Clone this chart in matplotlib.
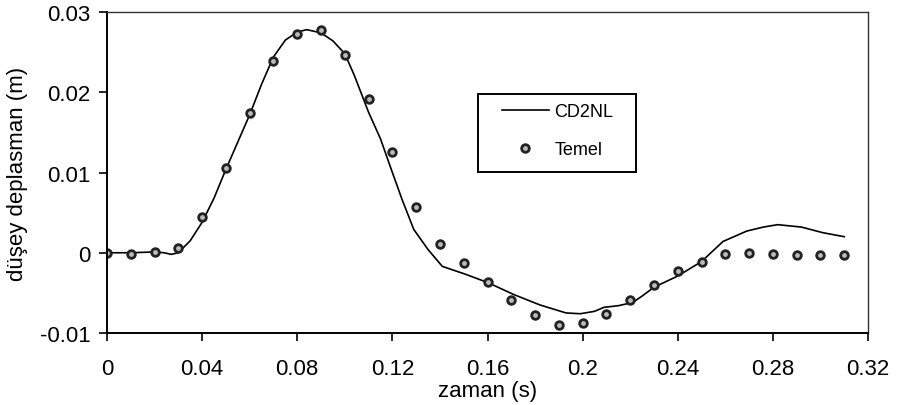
import matplotlib
matplotlib.use("Agg")
import matplotlib.pyplot as plt
from matplotlib.patches import Rectangle

plt.rcParams['font.family'] = ['Liberation Sans', 'DejaVu Sans']

# Temel: measured response every 0.01 s
t_temel = [0.00, 0.01, 0.02, 0.03, 0.04, 0.05, 0.06, 0.07, 0.08, 0.09,
           0.10, 0.11, 0.12, 0.13, 0.14, 0.15, 0.16, 0.17, 0.18, 0.19,
           0.20, 0.21, 0.22, 0.23, 0.24, 0.25, 0.26, 0.27, 0.28, 0.29,
           0.30, 0.31]
u_temel = [0.0000, -0.0001, 0.0001, 0.0006, 0.0044, 0.0106, 0.0174, 0.0239,
           0.0272, 0.0277, 0.0247, 0.0191, 0.0125, 0.0057, 0.0011, -0.0013,
           -0.0036, -0.0059, -0.0077, -0.0090, -0.0088, -0.0076, -0.0059,
           -0.0040, -0.0023, -0.0011, -0.0002, 0.0000, -0.0001, -0.0003,
           -0.0003, -0.0003]

# CD2NL: computed response
t_cd2nl = [0.000, 0.010, 0.020, 0.024, 0.027, 0.030, 0.035, 0.040, 0.045,
           0.050, 0.055, 0.060, 0.065, 0.070, 0.075, 0.080, 0.084, 0.090,
           0.095, 0.100, 0.104, 0.110, 0.115, 0.120, 0.124, 0.129, 0.135,
           0.141, 0.150, 0.160, 0.171, 0.182, 0.193, 0.199, 0.205, 0.209,
           0.215, 0.221, 0.225, 0.230, 0.240, 0.250, 0.259, 0.269, 0.276,
           0.282, 0.292, 0.301, 0.310]
u_cd2nl = [0.0000, 0.0000, 0.0001, 0.0000, -0.0002, 0.0000, 0.0015, 0.0038,
           0.0068, 0.0104, 0.0138, 0.0172, 0.0210, 0.0244, 0.0265, 0.0275,
           0.0278, 0.0274, 0.0264, 0.0248, 0.0221, 0.0175, 0.0142, 0.0100,
           0.0067, 0.0029, 0.0004, -0.0017, -0.0026, -0.0037, -0.0052,
           -0.0065, -0.0075, -0.0076, -0.0073, -0.0068, -0.0066, -0.0062,
           -0.0054, -0.0043, -0.0029, -0.0011, 0.0014, 0.0027, 0.0032,
           0.0035, 0.0032, 0.0025, 0.0020]

x_ticks = [0, 0.04, 0.08, 0.12, 0.16, 0.2, 0.24, 0.28, 0.32]
x_labels = ['0', '0.04', '0.08', '0.12', '0.16', '0.2', '0.24', '0.28', '0.32']
y_ticks = [-0.01, 0, 0.01, 0.02, 0.03]
y_labels = ['-0.01', '0', '0.01', '0.02', '0.03']

fig = plt.figure(figsize=(8.99, 4.06), dpi=100)
ax = fig.add_axes([107 / 899, 1 - 334 / 406, (868 - 107) / 899, (334 - 13) / 406])

ax.plot(t_cd2nl, u_cd2nl, color='black', lw=1.2, label='CD2NL')
ax.plot(t_temel, u_temel, ls='none', marker='o', ms=5.5, mew=2.0,
        mec='#222222', mfc='#bbbbbb', label='Temel')

ax.set_xlim(0, 0.32)
ax.set_ylim(-0.01, 0.03)
ax.set_xticks(x_ticks)
ax.set_xticklabels(x_labels)
ax.set_yticks(y_ticks)
ax.set_yticklabels(y_labels)
ax.tick_params(direction='out', length=6, width=1.2, labelsize=16,
               colors='black')
ax.tick_params(axis='x', pad=12)
ax.tick_params(axis='y', pad=6)

for side in ['left', 'bottom']:
    ax.spines[side].set_linewidth(1.4)
for side in ['top', 'right']:
    ax.spines[side].set_linewidth(1.0)
    ax.spines[side].set_color('#333333')

ax.set_xlabel('zaman (s)', fontsize=16, labelpad=1)
ax.set_ylabel('düşey deplasman (m)', fontsize=16, labelpad=8)

# legend entries without frame, boxed by a wider rectangle
leg = ax.legend(loc='upper left', bbox_to_anchor=(0.519, 0.715),
                fontsize=13, frameon=False,
                handlelength=2.6, handletextpad=0.3, borderpad=0,
                labelspacing=1.15, borderaxespad=0)
ax.add_patch(Rectangle((0.4875, 0.5016), 0.2075, 0.2429, transform=ax.transAxes,
                       fill=False, edgecolor='black', lw=1.4, zorder=5))

fig.savefig('out.png', dpi=100, facecolor='white')
